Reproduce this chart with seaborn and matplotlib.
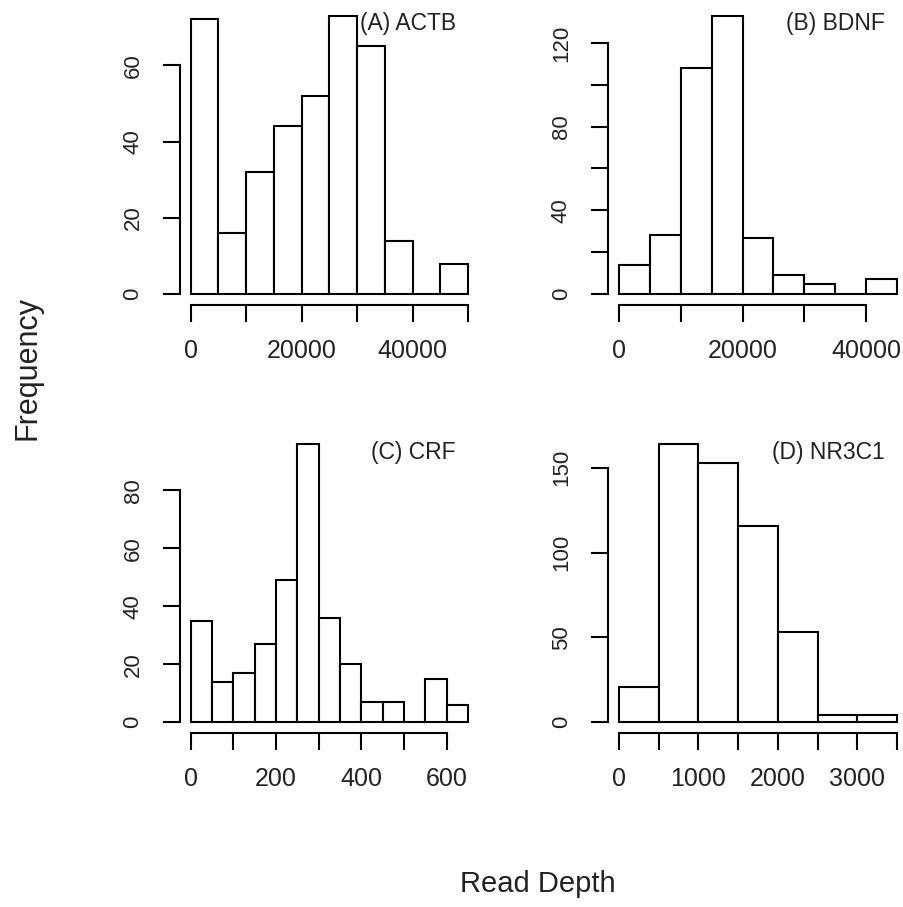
import matplotlib
matplotlib.use("Agg")
import matplotlib.pyplot as plt
import seaborn as sns
import numpy as np

# contagens por classe (histogramas estilo R)
actb_edges = [0, 5000, 10000, 15000, 20000, 25000, 30000, 35000, 40000, 45000, 50000]
actb_counts = [72, 16, 32, 44, 52, 73, 65, 14, 0, 8]

bdnf_edges = [0, 5000, 10000, 15000, 20000, 25000, 30000, 35000, 40000, 45000]
bdnf_counts = [14, 28, 108, 133, 27, 9, 5, 0, 7]

crf_edges = [0, 50, 100, 150, 200, 250, 300, 350, 400, 450, 500, 550, 600, 650]
crf_counts = [35, 14, 17, 27, 49, 96, 36, 20, 7, 7, 0, 15, 6]

nr3c1_edges = [0, 500, 1000, 1500, 2000, 2500, 3000, 3500]
nr3c1_counts = [21, 164, 153, 116, 53, 4, 4]

titles = ["(A) ACTB", "(B) BDNF", "(C) CRF", "(D) NR3C1"]
xticks = [list(range(0, 50001, 10000)), list(range(0, 40001, 10000)),
          list(range(0, 601, 100)), list(range(0, 3501, 500))]
xlabels_shown = [[0, 20000, 40000], [0, 20000, 40000], [0, 200, 400, 600], [0, 1000, 2000, 3000]]
yticks = [list(range(0, 61, 20)), list(range(0, 121, 20)), list(range(0, 81, 20)), list(range(0, 151, 50))]
ylabels_shown = [[0, 20, 40, 60], [0, 40, 80, 120], [0, 20, 40, 60, 80], [0, 50, 100, 150]]

sns.set_style("ticks")
plt.rcParams['font.family'] = ['Liberation Sans', 'DejaVu Sans']
tcolor = "#222222"

fig = plt.figure(figsize=(9.04, 9.07), dpi=100)
posicoes = [[0.1987, 0.6635, 0.3313, 0.3315], [0.6725, 0.6635, 0.332, 0.3315],
            [0.1987, 0.1914, 0.3313, 0.3312], [0.6725, 0.1914, 0.332, 0.3312]]

dados = [(actb_edges, actb_counts), (bdnf_edges, bdnf_counts),
         (crf_edges, crf_counts), (nr3c1_edges, nr3c1_counts)]

for i, (edges, counts) in enumerate(dados):
    ax = fig.add_axes(posicoes[i])
    centros = [(a + b) / 2 for a, b in zip(edges[:-1], edges[1:])]
    sns.histplot(x=centros, weights=counts, bins=edges, color="white",
                 edgecolor="black", linewidth=1.5, alpha=1, ax=ax)
    ax.set_xlabel("")
    ax.set_ylabel("")

    # limites com 4% de folga, como no R
    xr = edges[-1] - edges[0]
    ax.set_xlim(edges[0] - 0.04 * xr, edges[-1] + 0.04 * xr)
    ymax = max(counts)
    ax.set_ylim(-0.04 * ymax, ymax * 1.04)

    ax.set_xticks(xticks[i])
    ax.set_xticklabels([str(v) if v in xlabels_shown[i] else "" for v in xticks[i]])
    ax.set_yticks(yticks[i])
    ax.set_yticklabels([str(v) if v in ylabels_shown[i] else "" for v in yticks[i]],
                       rotation=90, va="center")

    for s in ["top", "right"]:
        ax.spines[s].set_visible(False)
    ax.spines["left"].set_bounds(yticks[i][0], yticks[i][-1])
    ax.spines["bottom"].set_bounds(xticks[i][0], xticks[i][-1])
    for s in ["left", "bottom"]:
        ax.spines[s].set_linewidth(1.5)
        ax.spines[s].set_color("black")

    ax.tick_params(axis="x", length=12, width=1.5, pad=12, labelsize=18,
                   labelcolor=tcolor, color="black")
    ax.tick_params(axis="y", length=12, width=1.5, pad=14, labelsize=16,
                   labelcolor=tcolor, color="black")
    ax.set_facecolor("white")

    ax.annotate(titles[i], xy=(1, 1), xycoords="axes fraction", xytext=(-23, -19),
                textcoords="offset pixels", ha="right", va="center",
                fontsize=16.5, color=tcolor)

fig.text(0.0304, 0.5943, "Frequency", rotation=90, ha="center", va="center",
         fontsize=22, color=tcolor)
fig.text(0.595, 0.0254, "Read Depth", ha="center", va="center",
         fontsize=21, color=tcolor)

fig.savefig("out.png", dpi=100, facecolor="white")
